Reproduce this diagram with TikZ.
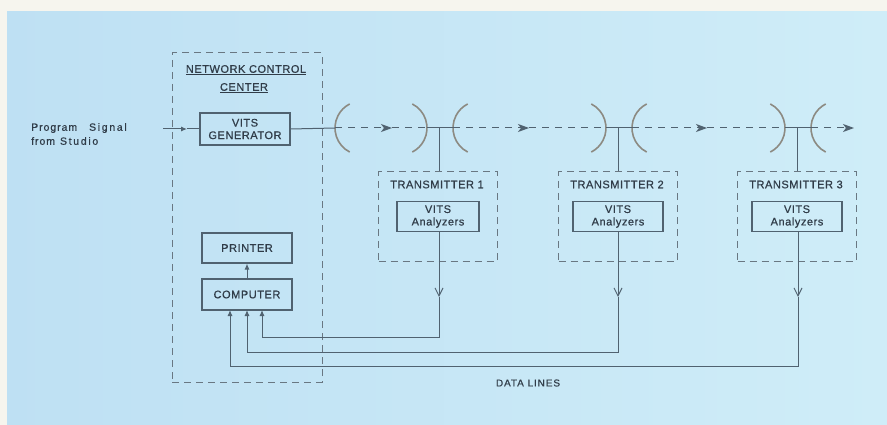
\documentclass[tikz,border=0pt]{standalone}
\usepackage{fontspec}
\setmainfont{Liberation Sans}
\newfontfamily\lett{Liberation Sans}[FakeBold=0.7,LetterSpace=5]
\newfontfamily\lettw{Liberation Sans}[FakeBold=0.7,LetterSpace=9]
\newfontfamily\lettx{Liberation Sans}[FakeBold=0.7,LetterSpace=16]
\usetikzlibrary{arrows.meta}
\definecolor{bgA}{RGB}{190,224,243}
\definecolor{bgB}{RGB}{207,237,248}
\definecolor{paper}{RGB}{246,245,238}
\definecolor{ink}{RGB}{80,98,112}
\definecolor{txt}{RGB}{48,60,72}
\definecolor{dishc}{RGB}{140,138,130}
\definecolor{dashc}{RGB}{105,119,130}
\newcommand{\tf}[2]{\fontsize{#1}{#2}\selectfont\lett}
\begin{document}
\begin{tikzpicture}[x=1pt,y=-1pt,
  lbl/.style={font=\tf{11}{13},text=txt,inner sep=0pt,align=center},
  box/.style={draw=ink,line width=1.1pt,inner sep=0pt,align=center,
    font=\tf{11}{12.5},text=txt},
  dbox/.style={draw=dashc,line width=1pt,dash pattern=on 7pt off 5pt,inner sep=0pt},
  wire/.style={draw=ink,line width=1pt},
  carrier/.style={draw=ink,line width=1pt,dash pattern=on 7pt off 6pt},
  dish/.style={draw=dishc,line width=1.6pt},
  uptip/.style={-{Latex[length=6pt,width=5pt]}},
  fwdtip/.style={-{Stealth[length=11pt,width=8pt,inset=3pt]}},
  downtip/.style={-{Straight Barb[length=8pt,width=8pt]}}]
\useasboundingbox (0,0) rectangle (887,425);
\fill[left color=bgA,right color=bgB] (0,0) rectangle (887,425);
\fill[paper] (0,0) rectangle (887,11);
\fill[paper] (0,0) rectangle (7,425);

% Network control center
\node[dbox,minimum width=150pt,minimum height=329pt] (ncc) at (247,217.5) {};
\node[lbl] (nct1) at (246,70) {\underline{NETWORK CONTROL}};
\node[lbl] (nct2) at (244,88) {\underline{CENTER}};
\node[box,minimum width=90pt,minimum height=32pt] (vg) at (245,129) {VITS\\GENERATOR};
\node[box,minimum width=90pt,minimum height=30pt] (pr) at (247,248) {PRINTER};
\node[box,minimum width=90pt,minimum height=31pt] (co) at (247,294.5) {COMPUTER};

% program input
\node[lbl,align=left,anchor=west,font=\fontsize{10.5}{14}\selectfont\lettw] (ps) at (31,134) {Program\hspace{12pt}{\lettx Signal}\\from\hspace{5pt}{\lettx Studio}};
\coordinate (src) at (163,129);
\coordinate (srcm) at (187,129);
\draw[wire,uptip] (src) -- (srcm);
\draw[wire] (srcm) -- (vg.west);

% transmitters
\foreach \i/\x/\w in {1/438/82,2/618/90,3/797/90}{
  \node[dbox,minimum width=119pt,minimum height=89pt] (t\i) at (\x,216.5) {};
  \node[lbl,font=\tf{11}{12}] (tt\i) at (\x-1,184.5) {TRANSMITTER \i};
  \node[box,minimum width=\w pt,minimum height=30pt] (va\i) at (\x,216.5) {VITS\\Analyzers};
}

% dishes
\coordinate (d0) at (335,128);
\draw[dish] (362,128) ++(117:27) arc[start angle=117,end angle=243,radius=27];
\foreach \i/\s in {1/439,2/618,3/797}{
  \coordinate (r\i) at (\s-12,128);
  \coordinate (l\i) at (\s+14,128);
  \coordinate (s\i) at (\s,128);
  \draw[dish] (\s-39,128) ++(-63:27) arc[start angle=-63,end angle=63,radius=27];
  \draw[dish] (\s+41,128) ++(117:27) arc[start angle=117,end angle=243,radius=27];
  \draw[wire] (r\i) -- (l\i);
  \draw[wire] (s\i) -- (t\i.north -| s\i);
}
\draw[wire] (vg.east) -- (d0);

% carrier path
\coordinate (m1) at (392,128);
\coordinate (m2) at (529,128);
\coordinate (m3) at (707,128);
\coordinate (m4) at (854,128);
\draw[carrier,fwdtip] (d0) -- (m1);
\draw[carrier] (m1) -- (r1);
\draw[carrier,fwdtip] (l1) -- (m2);
\draw[carrier] (m2) -- (r2);
\draw[carrier,fwdtip] (l2) -- (m3);
\draw[carrier] (m3) -- (r3);
\draw[carrier,fwdtip] (l3) -- (m4);

% printer link
\draw[wire,uptip] (co.north) -- (pr.south);

% data lines
\foreach \i/\x/\y/\c in {1/439/337/262,2/618/352/247,3/798/366/230}{
  \coordinate (a\i) at (\x,297);
  \coordinate (k\i) at (\x,\y);
  \coordinate (in\i) at (\c,310);
  \draw[wire,downtip] (va\i.south -| a\i) -- (a\i);
  \draw[wire,uptip] (a\i) -- (k\i) -| (in\i);
}
\node[lbl,font=\fontsize{10}{11}\selectfont\lettw] (dl) at (528,383) {DATA LINES};
\end{tikzpicture}
\end{document}
